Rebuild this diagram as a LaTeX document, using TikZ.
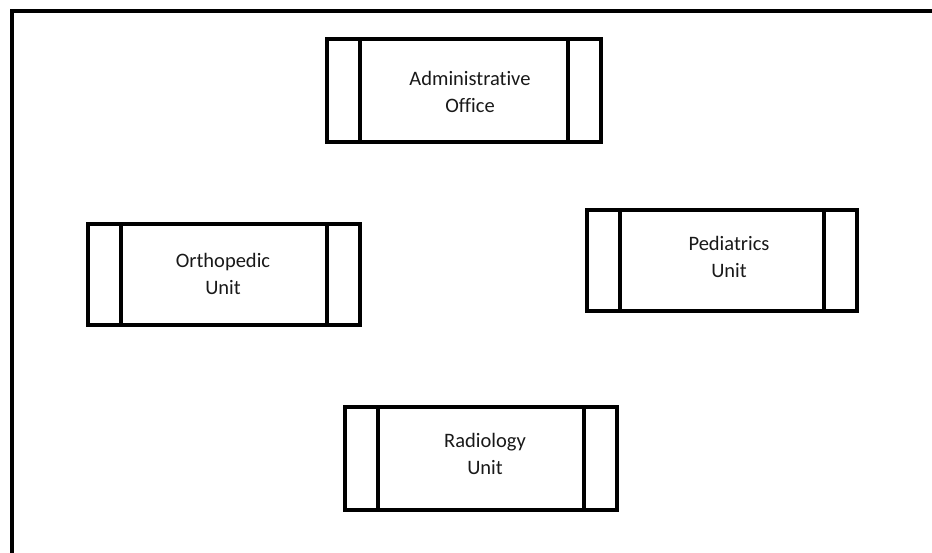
\documentclass[tikz,border=0pt]{standalone}
\usepackage{fontspec}
\setmainfont[Ligatures=NoCommon]{Carlito}
\begin{document}
\begin{tikzpicture}[x=1pt,y=-1pt,
  unitbox/.style={draw=black, line width=3.5pt, rectangle, inner sep=0pt,
    minimum width=272pt, minimum height=102pt,
    path picture={
      \draw[line width=3.5pt]
        ([xshift=33pt]path picture bounding box.north west) -- ([xshift=33pt]path picture bounding box.south west)
        ([xshift=-33pt]path picture bounding box.north east) -- ([xshift=-33pt]path picture bounding box.south east);
    }},
  unittext/.style={align=center, font=\fontsize{20.5}{27}\selectfont, text=black!90, inner sep=0pt}
]
\useasboundingbox (0,0) rectangle (932,553);
\fill[white] (0,0) rectangle (932,553);
% outer frame (right and bottom edges lie outside the picture)
\coordinate (frameBL) at (11.5,570);
\coordinate (frameTL) at (11.5,11);
\coordinate (frameTR) at (950,11);
\draw[line width=4pt] (frameBL) -- (frameTL) -- (frameTR);

\node[unitbox, minimum width=274pt, minimum height=103pt,
  label={[unittext, xshift=6pt, yshift=-1pt]center:Administrative\\Office}] (admin) at (464,90.5) {};
\node[unitbox, minimum width=272pt, minimum height=101pt,
  label={[unittext, xshift=-1pt, yshift=1pt]center:Orthopedic\\Unit}] (ortho) at (224,274.5) {};
\node[unitbox, minimum width=270pt, minimum height=101pt,
  label={[unittext, xshift=7pt, yshift=4pt]center:Pediatrics\\Unit}] (pedia) at (722,260.5) {};
\node[unitbox, minimum width=272pt, minimum height=103pt,
  label={[unittext, xshift=4pt, yshift=5pt]center:Radiology\\Unit}] (radio) at (481,458.5) {};
\end{tikzpicture}
\end{document}
